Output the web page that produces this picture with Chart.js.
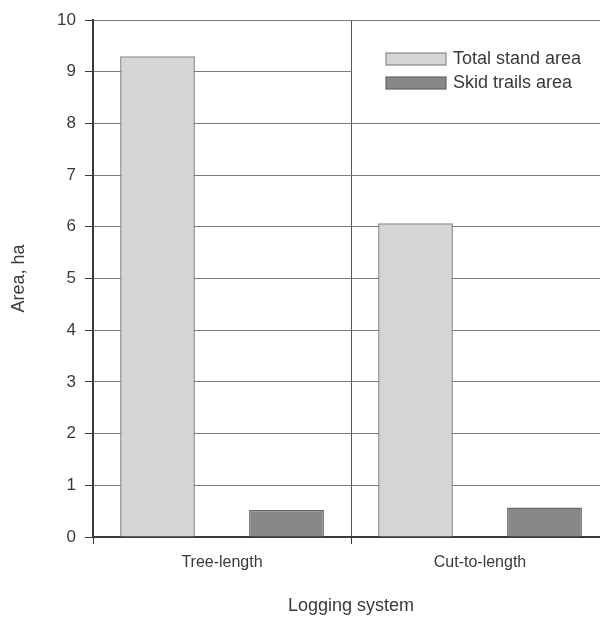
<!DOCTYPE html>
<html>
<head>
<meta charset="utf-8">
<script src="https://cdn.jsdelivr.net/npm/chart.js@4.4.1/dist/chart.umd.min.js"></script>
<style>
    html, body { margin: 0; padding: 0; background: #fff; overflow: hidden; }
    #wrap { width: 620px; height: 617px; }
</style>
</head>
<body>
<div id="wrap"><canvas id="myChart" width="620" height="617"></canvas></div>
<script>
const categories = ["Tree-length", "Cut-to-length"];
const totalStandArea = [9.3, 6.07];
const skidTrailsArea = [0.52, 0.57];
const yTicks = [0, 1, 2, 3, 4, 5, 6, 7, 8, 9, 10];

const FONT = "'Liberation Sans Narrow', 'Arial Narrow', 'Liberation Sans', Arial, sans-serif";
const TEXT = "#3a3a3a";

function init() {
    const canvas = document.getElementById("myChart");

    // legend sits inside the plot on a white patch (covers the 9 gridline)
    const boxLegend = {
        id: "boxLegend",
        afterDraw(chart) {
            const ctx = chart.ctx;
            const area = chart.chartArea;
            ctx.save();
            ctx.fillStyle = "#ffffff";
            ctx.fillRect(area.left + 259, 30, area.right - area.left - 259, 76);
            chart.data.datasets.forEach((ds, i) => {
                const y = 53 + i * 24;
                ctx.fillStyle = ds.backgroundColor;
                ctx.fillRect(386, y, 60, 12);
                ctx.strokeStyle = ds.borderColor;
                ctx.lineWidth = 1.2;
                ctx.strokeRect(386, y, 60, 12);
                ctx.fillStyle = TEXT;
                ctx.font = "18px " + FONT;
                ctx.textBaseline = "middle";
                ctx.textAlign = "left";
                ctx.fillText(ds.label, 453, y + 6.5);
            });
            ctx.restore();
        }
    };

    new Chart(canvas, {
        type: "bar",
        data: {
            labels: categories,
            datasets: [
                {
                    label: "Total stand area",
                    data: totalStandArea,
                    backgroundColor: "#d5d5d7",
                    borderColor: "#888",
                    borderWidth: 1.5,
                    categoryPercentage: 1,
                    barPercentage: 0.58
                },
                {
                    label: "Skid trails area",
                    data: skidTrailsArea,
                    backgroundColor: "#88888b",
                    borderColor: "#666",
                    borderWidth: 1.5,
                    categoryPercentage: 1,
                    barPercentage: 0.58
                }
            ]
        },
        options: {
            responsive: false,
            animation: false,
            layout: { padding: { left: 0, right: 11, top: 20, bottom: 0 } },
            plugins: {
                legend: { display: false },
                tooltip: { enabled: false }
            },
            scales: {
                x: {
                    grid: { offset: true, color: "#555", lineWidth: 1, tickLength: 7, tickColor: "#333" },
                    border: { color: "#3a3a3a", width: 2 },
                    ticks: { color: TEXT, font: { family: FONT, size: 16 }, padding: 9 },
                    title: {
                        display: true, text: "Logging system", color: TEXT,
                        font: { family: FONT, size: 18 }, padding: { top: 0, bottom: 0 }
                    },
                    afterFit(scale) { scale.height = 80; }
                },
                y: {
                    min: 0,
                    max: 10,
                    afterBuildTicks(scale) { scale.ticks = yTicks.map(v => ({ value: v })); },
                    grid: { color: "#7a7a7a", lineWidth: 1, tickLength: 8, tickColor: "#3a3a3a" },
                    border: { color: "#3a3a3a", width: 2 },
                    ticks: { color: TEXT, font: { family: FONT, size: 17 }, padding: 9 },
                    title: {
                        display: true, text: "Area, ha", color: TEXT,
                        font: { family: FONT, size: 18 }, padding: { top: 8, bottom: 0 }
                    },
                    afterFit(scale) { scale.width = 93; }
                }
            }
        },
        plugins: [boxLegend]
    });
}

document.addEventListener("DOMContentLoaded", init);
</script>
</body>
</html>
